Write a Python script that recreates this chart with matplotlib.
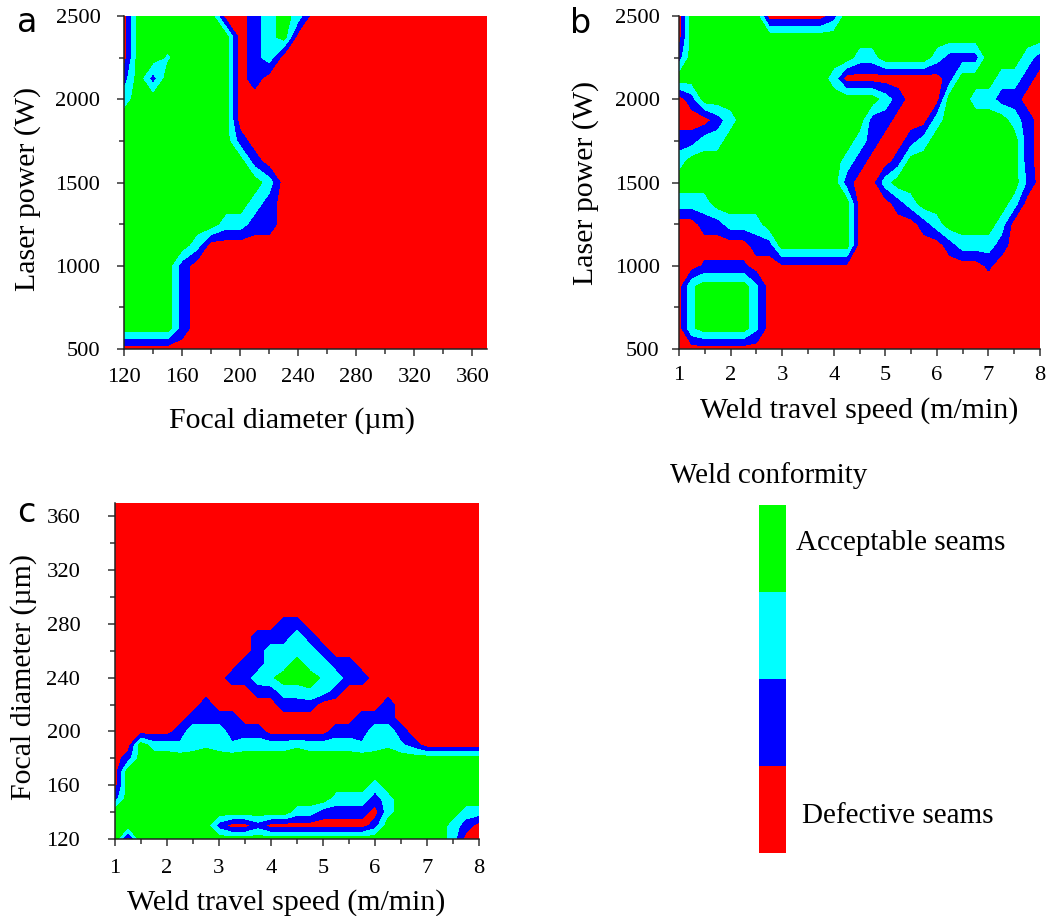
import numpy as np
import matplotlib.pyplot as plt
from matplotlib.ticker import MultipleLocator

plt.rcParams['font.family'] = ['Liberation Serif', 'DejaVu Serif']

# weld conformity score at regular grid nodes
# 0 = defective ... 9 = acceptable, one string per row, top row first

# (a) laser power vs focal diameter
focal_a = np.arange(120, 371, 10)
power_a = np.arange(2500, 499, -125)
score_a = [
    "09999990036960000000000000",
    "09999999036900000000000000",
    "09979999036000000000000000",
    "39399999030000000000000000",
    "69999999000000000000000000",
    "99999999000000000000000000",
    "99999999300000000000000000",
    "99999999930000000000000000",
    "99999999996000000000000000",
    "99999999963000000000000000",
    "99999996633000000000000000",
    "99999600000000000000000000",
    "99993000000000000000000000",
    "99993000000000000000000000",
    "99993000000000000000000000",
    "99993000000000000000000000",
    "00000000000000000000000000",
]

# (b) laser power vs weld travel speed
speed_b = np.arange(1, 8.01, 0.25)
power_b = np.arange(2500, 499, -125)
score_b = [
    "09999990000039999999999999999",
    "09999999999999999999999999999",
    "39999999999999669999633399963",
    "99999999999960000000039996630",
    "03999999999999996300099663300",
    "00036999999999933000699999630",
    "33669999999999630036999999930",
    "69999999999996300399999999930",
    "99999999999993006999999999940",
    "66699999999999000369999999600",
    "00336669999999000003699996000",
    "00000033999999000000036663000",
    "00222200111111000000000020000",
    "07999950000000000000000000000",
    "07999950000000000000000000000",
    "07999950000000000000000000000",
    "00000000000000000000000000000",
]

# (c) focal diameter vs weld travel speed
speed_c = np.arange(1, 8.01, 0.25)
focal_c = np.arange(370, 119, -10)
score_c = [
    "00000000000000000000000000000",
    "00000000000000000000000000000",
    "00000000000000000000000000000",
    "00000000000000000000000000000",
    "00000000000000000000000000000",
    "00000000000000000000000000000",
    "00000000000000000000000000000",
    "00000000000000000000000000000",
    "00000000000000000000000000000",
    "00000000000003300000000000000",
    "00000000000333630000000000000",
    "00000000000366663000000000000",
    "00000000003366966330000000000",
    "00000000033679997633000000000",
    "00000000000336676300000000000",
    "00000003000003330000030000000",
    "00000033330000000003330000000",
    "00000366633300000333663000000",
    "00966567656666766665675300000",
    "03999999999999999999999999999",
    "09999999999999999999999999999",
    "09999999999999999999699999999",
    "39999999999999999666369999999",
    "99999999999999663333069999966",
    "99999999300300000000399999630",
    "90999999999999999999999999600",
]

levels = [-1, 1.5, 4.5, 7.5, 10]
zone_colors = ['#ff0000', '#0000ff', '#00ffff', '#00ff00']

W, H = 1047, 916
fig = plt.figure(figsize=(W / 100, H / 100), dpi=100)


def to_grid(rows):
    return np.array([[int(ch) for ch in r] for r in rows], dtype=float)


def panel(rect, x, y, rows, xlim, ylim, xstep, ystep, xlabel, ylabel,
          xlab_pos, ylab_pos, xpad, ypad):
    ax = fig.add_axes(rect)
    cs = ax.contourf(x, y, to_grid(rows), levels=levels, colors=zone_colors,
                     antialiased=False)
    ax.set_xlim(*xlim)
    ax.set_ylim(*ylim)
    ax.xaxis.set_major_locator(MultipleLocator(xstep))
    ax.xaxis.set_minor_locator(MultipleLocator(xstep / 2))
    ax.yaxis.set_major_locator(MultipleLocator(ystep))
    ax.yaxis.set_minor_locator(MultipleLocator(ystep / 2))
    for s in ['top', 'right']:
        ax.spines[s].set_visible(False)
    for s in ['left', 'bottom']:
        ax.spines[s].set_linewidth(1.1)
        ax.spines[s].set_color('#222222')
    ax.tick_params(which='both', direction='out', width=1.1, color='#333333',
                   labelsize=16.2)
    ax.tick_params(which='major', length=5)
    ax.tick_params(which='minor', length=3.3)
    ax.tick_params(axis='x', which='major', pad=xpad)
    ax.tick_params(axis='y', which='major', pad=ypad)
    ax.set_xlabel(xlabel, fontsize=21.5, va='center')
    ax.set_ylabel(ylabel, fontsize=21.5, va='center')
    ax.xaxis.set_label_coords(*xlab_pos)
    ax.yaxis.set_label_coords(*ylab_pos)
    return cs


cs = panel([124 / W, 1 - 349 / H, 363 / W, 333 / H], focal_a, power_a, score_a,
           (120, 370), (500, 2500), 40, 500,
           'Focal diameter (\u00b5m)', 'Laser power (W)',
           (0.464, -0.216), (-0.2645, 0.48), 9, 12)
panel([679 / W, 1 - 349 / H, 361 / W, 333 / H], speed_b, power_b, score_b,
      (1, 8), (500, 2500), 1, 500,
      'Weld travel speed (m/min)', 'Laser power (W)',
      (0.4986, -0.186), (-0.258, 0.4985), 7.5, 9)
panel([115 / W, 1 - 839 / H, 364 / W, 336 / H], speed_c, focal_c, score_c,
      (1, 8), (120, 370), 1, 40,
      'Weld travel speed (m/min)', 'Focal diameter (\u00b5m)',
      (0.47, -0.19), (-0.251, 0.482), 9.5, 20)

for letter, x, y in [('a', 17, 32), ('b', 570, 33), ('c', 17, 522)]:
    fig.text(x / W, 1 - y / H, letter, fontsize=24, family='DejaVu Sans',
             ha='left', va='baseline')

# conformity scale
cax = fig.add_axes([759 / W, 1 - 853 / H, 27 / W, 348 / H])
cb = fig.colorbar(cs, cax=cax, spacing='uniform')
cb.outline.set_visible(False)
cb.set_ticks([])
fig.text(670 / W, 1 - 483 / H, 'Weld conformity', fontsize=21, va='baseline')
fig.text(796 / W, 1 - 550 / H, 'Acceptable seams', fontsize=21, va='baseline')
fig.text(802 / W, 1 - 823 / H, 'Defective seams', fontsize=21, va='baseline')

fig.savefig('out.png', dpi=100)
